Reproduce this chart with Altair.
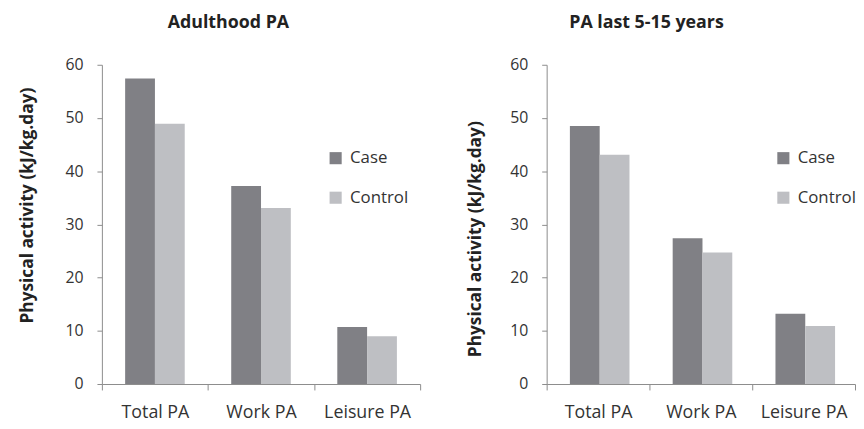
import altair as alt
import pandas as pd

categories = ["Total PA", "Work PA", "Leisure PA"]
groups = ["Case", "Control"]
colors = ["#808085", "#bebfc3"]

adult_case = [57.4, 37.2, 10.7]
adult_control = [48.9, 33.1, 9.0]
recent_case = [48.5, 27.4, 13.2]
recent_control = [43.1, 24.7, 10.9]

y_ticks = [0, 10, 20, 30, 40, 50, 60]
y_title = "Physical activity (kJ/kg.day)"

FONT = "Open Sans"
AXIS_GRAY = "#8c8c8c"
TEXT = "#333333"


def make_df(case_vals, control_vals):
    rows = []
    for c, v in zip(categories, case_vals):
        rows.append({"category": c, "group": "Case", "value": v})
    for c, v in zip(categories, control_vals):
        rows.append({"category": c, "group": "Control", "value": v})
    return pd.DataFrame(rows)


def panel(df, title, title_dx, width, title_x, title_y, leg_x, leg_y):
    return alt.Chart(df).mark_bar().encode(
        x=alt.X(
            "category:N",
            sort=categories,
            scale=alt.Scale(paddingInner=0, paddingOuter=0),
            axis=alt.Axis(
                title=None,
                labelAngle=0,
                tickBand="extent",
                tickSize=6,
                labelPadding=14,
                labelFontSize=18,
                labelColor=TEXT,
                domainColor=AXIS_GRAY,
                tickColor=AXIS_GRAY,
                grid=False,
            ),
        ),
        xOffset=alt.XOffset(
            "group:N",
            sort=groups,
            scale=alt.Scale(paddingInner=0, paddingOuter=0.78),
        ),
        y=alt.Y(
            "value:Q",
            scale=alt.Scale(domain=[0, 60], nice=False),
            axis=alt.Axis(
                values=y_ticks,
                title=y_title,
                titleX=title_x,
                titleY=title_y,
                titleBaseline="middle",
                titleFontSize=17.5,
                titleFontWeight="bold",
                titleColor="#222222",
                labelFontSize=16,
                labelColor=TEXT,
                labelPadding=14,
                tickSize=5,
                domainColor=AXIS_GRAY,
                tickColor=AXIS_GRAY,
                grid=False,
            ),
        ),
        color=alt.Color(
            "group:N",
            scale=alt.Scale(domain=groups, range=colors),
            legend=alt.Legend(
                title=None,
                orient="none",
                legendX=leg_x,
                legendY=leg_y,
                symbolType="square",
                symbolSize=150,
                symbolStrokeWidth=0,
                labelFontSize=17,
                labelColor=TEXT,
                labelOffset=6,
                rowPadding=22,
                padding=0,
            ),
        ),
    ).properties(
        width=width,
        height=323,
        title=alt.TitleParams(
            title,
            fontSize=18,
            fontWeight="bold",
            color="#222222",
            dx=title_dx,
            offset=11,
            baseline="alphabetic",
        ),
    )


left = panel(make_df(adult_case, adult_control), "Adulthood PA", -33, 322, -75, 142, 228, 86)
right = panel(make_df(recent_case, recent_control), "PA last 5-15 years", -55, 312, -72, 176, 231, 86)

chart = alt.hconcat(left, right, spacing=46).resolve_scale(color="independent").resolve_legend(
    color="independent"
).properties(
    padding={"left": 11, "top": 4, "right": 0, "bottom": 0}
).configure(font=FONT).configure_view(stroke=None)

chart.save("out.html", embed_options={"renderer": "svg", "actions": False})
